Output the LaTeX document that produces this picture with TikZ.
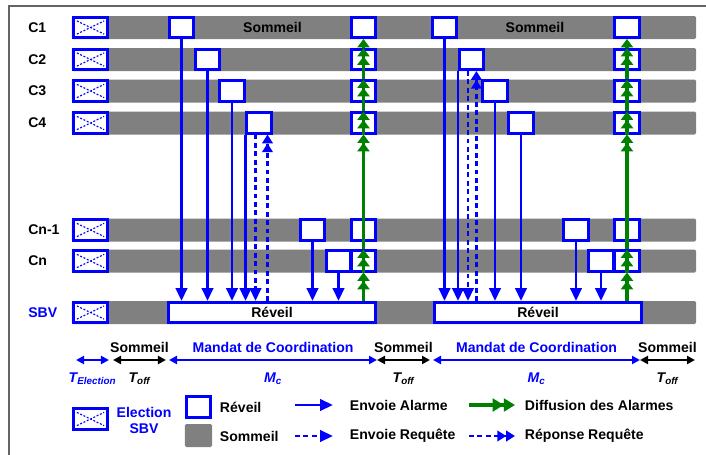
\documentclass[tikz,border=0pt]{standalone}
\usepackage{fontspec}
\setmainfont{Liberation Sans}
\usetikzlibrary{arrows.meta,positioning}
\definecolor{sleepgray}{RGB}{128,128,128}
\definecolor{sbvblue}{RGB}{0,0,255}
\definecolor{spreadgreen}{RGB}{0,128,0}
\definecolor{framegray}{RGB}{100,100,100}
\tikzset{
  sleepbar/.style={fill=sleepgray,rounded corners=1pt,inner sep=0,minimum width=15.6cm,minimum height=0.575cm},
  elect/.style={draw=sbvblue,line width=2pt,fill=white,inner sep=0,minimum width=0.855cm,minimum height=0.505cm,
    path picture={\draw[sbvblue,line width=0.8pt,dash pattern=on 1.4pt off 1.2pt]
      ([shift={(2.5pt,-2.5pt)}]path picture bounding box.north west) -- ([shift={(-2.5pt,2.5pt)}]path picture bounding box.south east)
      ([shift={(2.5pt,2.5pt)}]path picture bounding box.south west) -- ([shift={(-2.5pt,-2.5pt)}]path picture bounding box.north east);}},
  wakebox/.style={draw=sbvblue,line width=2pt,fill=white,inner sep=0,minimum width=0.605cm,minimum height=0.505cm},
  rowlbl/.style={anchor=west,inner sep=0},
  alarm/.style={draw=sbvblue,line width=2pt,-{Triangle[length=0.32cm,width=0.28cm]}},
  request/.style={alarm,dash pattern=on 3.5pt off 2.5pt},
  reply/.style={request,-{Triangle[length=0.22cm,width=0.26cm] Triangle[length=0.22cm,width=0.26cm]}},
  spread/.style={draw=spreadgreen,line width=2.8pt,-{Triangle[length=0.21cm,width=0.3cm] Triangle[length=0.21cm,width=0.3cm]}},
  spreadone/.style={spread,-{Triangle[length=0.21cm,width=0.3cm]}},
  period/.style={line width=1.5pt,{Triangle[length=0.2cm,width=0.2cm]}-{Triangle[length=0.2cm,width=0.2cm]}},
}
\begin{document}
\begin{tikzpicture}[x=0.025cm,y=-0.025cm,font=\bfseries]
\useasboundingbox (0,0) rectangle (706,455);
\draw[framegray,line width=1.1pt] (706,6) -- (9,6) -- (9,455);
\foreach \r/\y in {1/27.5,2/59.5,3/91,4/123,5/230,6/261,7/312.5} {
  \node[sleepbar] (bar\r) at (384,\y) {};
  \node[elect] (E\r) at (90.5,\y) {};
}
\node[rowlbl] (l1) at (28,27.5) {C1};
\node[rowlbl] (l2) at (28,59.5) {C2};
\node[rowlbl] (l3) at (28,91) {C3};
\node[rowlbl] (l4) at (28,123) {C4};
\node[rowlbl] (l5) at (28,230) {Cn-1};
\node[rowlbl] (l6) at (28,261) {Cn};
\node[rowlbl,text=sbvblue] (l7) at (28,312.5) {SBV};
\node (s1) at (272.5,27.5) {Sommeil};
\node (s2) at (535,27.5) {Sommeil};
\foreach \r/\y in {1/27.5,2/59.5,3/91,4/123,5/230,6/261} {
  \node[wakebox] (GA\r) at (363.5,\y) {};
  \node[wakebox] (GB\r) at (627,\y) {};
}
\node[wakebox] (A1) at (181.5,27.5) {};
\node[wakebox] (A2) at (207.5,59.5) {};
\node[wakebox] (A3) at (232,91) {};
\node[wakebox] (A4) at (259,123) {};
\node[wakebox] (A5) at (312.5,230) {};
\node[wakebox] (A6) at (338.5,261) {};
\node[wakebox] (B1) at (444.5,27.5) {};
\node[wakebox] (B2) at (471.5,59.5) {};
\node[wakebox] (B3) at (495,91) {};
\node[wakebox] (B4) at (521,123) {};
\node[wakebox] (B5) at (576,230) {};
\node[wakebox] (B6) at (601,261) {};
\node[wakebox,minimum width=5.18cm] (RA) at (272,312.5) {Réveil};
\node[wakebox,minimum width=5.18cm] (RB) at (538,312.5) {Réveil};
\draw[alarm] (A1.south) -- (A1.south |- RA.north);
\draw[alarm] (A2.south) -- (A2.south |- RA.north);
\draw[alarm] (A3.south) -- (A3.south |- RA.north);
\draw[alarm] (A4.south west) -- (A4.south west |- RA.north);
\draw[alarm] (A5.south) -- (A5.south |- RA.north);
\draw[alarm] (A6.south) -- (A6.south |- RA.north);
\coordinate (qa) at ([xshift=0.25cm]A4.south west);
\coordinate (ra) at ([xshift=0.55cm]A4.south west);
\draw[request] (qa) -- (qa |- RA.north);
\draw[reply] (ra |- RA.north) -- (ra);
\draw[alarm] (B1.south) -- (B1.south |- RB.north);
\draw[alarm] (B2.south west) -- (B2.south west |- RB.north);
\draw[alarm] (B3.south) -- (B3.south |- RB.north);
\draw[alarm] (B4.south) -- (B4.south |- RB.north);
\draw[alarm] (B5.south) -- (B5.south |- RB.north);
\draw[alarm] (B6.south) -- (B6.south |- RB.north);
\coordinate (qb) at ([xshift=0.25cm]B2.south west);
\coordinate (rb) at ([xshift=0.46cm]B2.south west);
\draw[request] (qb) -- (qb |- RB.north);
\draw[reply] (rb |- RB.north) -- (rb);
\draw[spread] (GA6.south |- RA.north) -- (GA6.south);
\draw[spread] (GA6.south) -- (GA6.north);
\draw[spread] (GA6.north) -- (GA4.south);
\draw[spread] (GA4.south) -- (GA4.north);
\draw[spread] (GA4.north) -- (GA3.north);
\draw[spread] (GA3.north) -- (GA2.north);
\draw[spreadone] (GA2.north) -- (GA1.south);
\draw[spread] (GB6.south |- RB.north) -- (GB6.south);
\draw[spread] (GB6.south) -- (GB6.north);
\draw[spread] (GB6.north) -- (GB4.south);
\draw[spread] (GB4.south) -- (GB4.north);
\draw[spread] (GB4.north) -- (GB3.north);
\draw[spread] (GB3.north) -- (GB2.north);
\draw[spreadone] (GB2.north) -- (GB1.south);
\coordinate (t0) at (76,360);
\coordinate (t1) at (109,360);
\coordinate (t2) at (113,360);
\coordinate (t3) at (166,360);
\coordinate (t4) at (169,360);
\coordinate (t5) at (377,360);
\coordinate (t6) at (430,360);
\coordinate (t7) at (433,360);
\coordinate (t8) at (640,360);
\coordinate (t9) at (695,360);
\draw[period,sbvblue] (t0) -- node[below=5pt] {\itshape T\textsubscript{Election}} (t1);
\draw[period] (t2) -- node[above=1pt] {Sommeil} node[below=5pt] {\itshape T\textsubscript{off}} (t3);
\draw[period,sbvblue] (t4) -- node[above=1pt] {Mandat de Coordination} node[below=5pt] {\itshape M\textsubscript{c}} (t5);
\draw[period] (t5) -- node[above=1pt] {Sommeil} node[below=5pt] {\itshape T\textsubscript{off}} (t6);
\draw[period,sbvblue] (t7) -- node[above=1pt] {Mandat de Coordination} node[below=5pt] {\itshape M\textsubscript{c}} (t8);
\draw[period] (t8) -- node[above=1pt] {Sommeil} node[below=5pt] {\itshape T\textsubscript{off}} (t9);
\node[elect] (le) at (90.5,419) {};
\node[text=sbvblue,align=center] (let) at (144,420.5) {Election\\SBV};
\node[wakebox] (lw) at (198.5,407) {};
\node[anchor=west] (lwt) at (215,407) {Réveil};
\node[sleepbar,minimum width=0.675cm] (ls) at (198.5,435.5) {};
\node[anchor=west] (lst) at (215,436) {Sommeil};
\coordinate (la0) at (295,405);
\coordinate (la1) at (333,405);
\draw[alarm] (la0) -- (la1);
\node[anchor=west] (lat) at (345,405) {Envoie Alarme};
\coordinate (lq0) at (295,436);
\coordinate (lq1) at (333,436);
\draw[request] (lq0) -- (lq1);
\node[anchor=west] (lqt) at (345,436) {Envoie Requête};
\coordinate (ld0) at (469,405);
\coordinate (ld1) at (515,405);
\draw[spread,-{Triangle[length=0.28cm,width=0.32cm] Triangle[length=0.28cm,width=0.32cm]}] (ld0) -- (ld1);
\node[anchor=west] (ldt) at (520,405) {Diffusion des Alarmes};
\coordinate (lr0) at (469,436);
\coordinate (lr1) at (515,436);
\draw[reply] (lr0) -- (lr1);
\node[anchor=west] (lrt) at (520,436) {Réponse Requête};
\end{tikzpicture}
\end{document}
